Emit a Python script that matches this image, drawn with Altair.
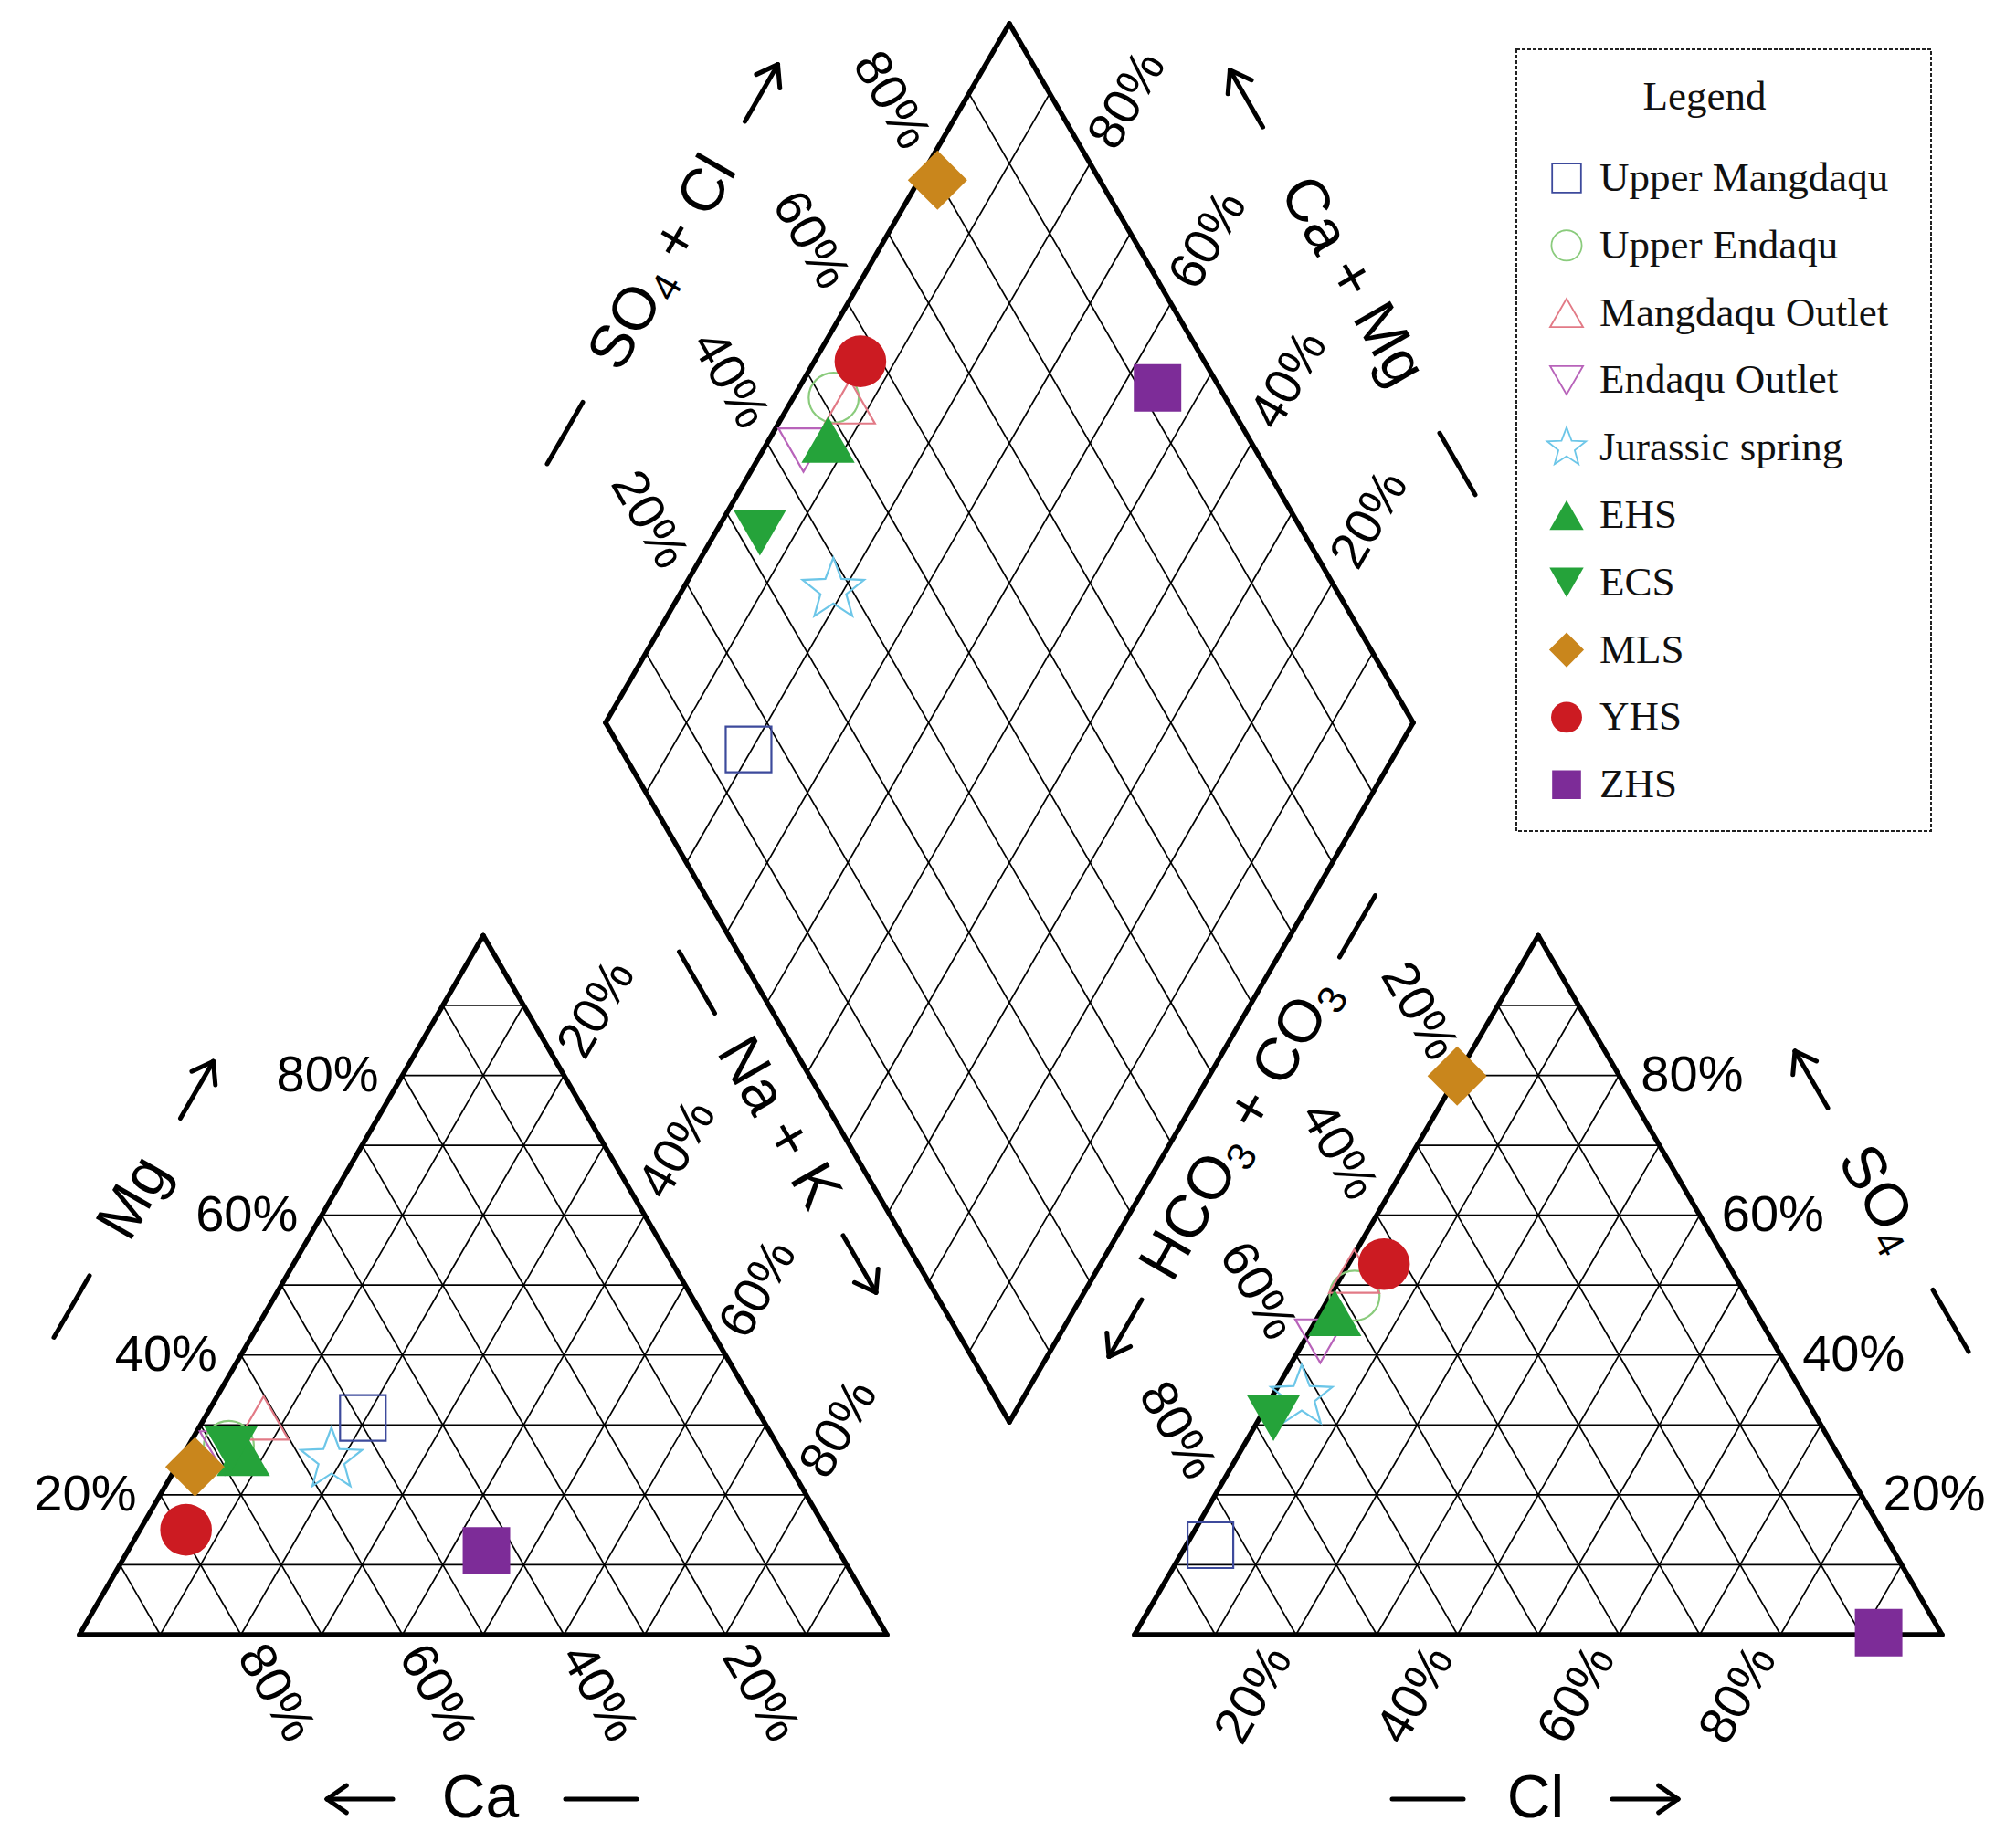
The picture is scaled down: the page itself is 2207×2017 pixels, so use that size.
import math
import altair as alt
import pandas as pd

# ---------------- data (percent) ----------------
names = ["Upper Mangdaqu", "Upper Endaqu", "Mangdaqu Outlet", "Endaqu Outlet",
         "Jurassic spring", "EHS", "ECS", "MLS", "YHS", "ZHS"]
cat_ca = [49.4, 68.0, 61.7, 69.0, 56.3, 66.7, 68.0, 73.7, 79.3, 43.6]
cat_mg = [31.0, 27.0, 31.0, 26.0, 25.0, 26.0, 26.5, 24.0, 15.0, 12.0]
cat_nak = [19.6, 5.0, 7.3, 5.0, 18.7, 7.3, 5.5, 2.3, 5.7, 44.4]
an_hco3 = [84.2, 48.5, 46.8, 56.0, 62.3, 52.2, 67.3, 20.1, 42.6, 7.7]
an_so4 = [12.8, 48.5, 52.0, 42.0, 34.0, 46.0, 31.0, 79.9, 53.0, 0.3]
an_cl = [3.0, 3.0, 1.2, 2.0, 3.7, 1.8, 1.7, 0.0, 4.4, 92.0]

tick_values = [20, 40, 60, 80]
tick_labels = ["20%", "40%", "60%", "80%"]

# ---------------- styles ----------------
star = []
for i in range(10):
    r = 1.0 if i % 2 == 0 else 0.42
    a = math.radians(-90 + 36 * i)
    star.append(f"{r*math.cos(a):.3f},{r*math.sin(a):.3f}")
STAR = "M" + " L".join(star) + " Z"

shapes = ["square", "circle", "triangle-up", "triangle-down", STAR,
          "triangle-up", "triangle-down", "diamond", "circle", "square"]
colors = ["#3d4a9c", "#8acb7c", "#e27a86", "#b863ba", "#6cc6e8",
          "#25a33a", "#25a33a", "#c9861c", "#cc1b22", "#7d2c98"]
filled = [False, False, False, False, False, True, True, True, True, True]
sizes = [2500, 3000, 3000, 3000, 5000, 3400, 3400, 4225, 3200, 2700]
legend_sizes = [1000, 1100, 1300, 1300, 2000, 1400, 1400, 1450, 1150, 1000]

SANS = "Liberation Sans, Arial, DejaVu Sans, sans-serif"
SERIF = "Liberation Serif, Times New Roman, DejaVu Serif, serif"

# ---------------- geometry ----------------
L = 884.0
H = L * math.sqrt(3) / 2
CAT = (87.0, 1790.0)     # bottom-left corner of cation triangle
AN = (1242.0, 1790.0)    # bottom-left corner of anion triangle
DB = (1105.0, 1557.0)    # bottom corner of diamond
W, HT = 2190, 2000


def tri_xy(o, top, right):
    return (o[0] + (right + top / 2) / 100 * L, o[1] - top / 100 * H)


def dia_xy(a, c):
    return (DB[0] + (a - c) / 100 * L / 2, DB[1] - (a + c) / 100 * H)


segs, outline = [], []


def seg(lst, p, q):
    lst.append({"x": p[0], "y": p[1], "x2": q[0], "y2": q[1]})


for o in (CAT, AN):
    for k in range(1, 10):
        f = k * 10
        seg(segs, tri_xy(o, f, 0), tri_xy(o, f, 100 - f))
        seg(segs, tri_xy(o, 0, f), tri_xy(o, 100 - f, f))
        seg(segs, tri_xy(o, 0, f), tri_xy(o, f, 0))
    seg(outline, tri_xy(o, 0, 0), tri_xy(o, 0, 100))
    seg(outline, tri_xy(o, 0, 100), tri_xy(o, 100, 0))
    seg(outline, tri_xy(o, 100, 0), tri_xy(o, 0, 0))
for k in range(1, 10):
    f = k * 10
    seg(segs, dia_xy(f, 0), dia_xy(f, 100))
    seg(segs, dia_xy(0, f), dia_xy(100, f))
seg(outline, dia_xy(0, 0), dia_xy(100, 0))
seg(outline, dia_xy(100, 0), dia_xy(100, 100))
seg(outline, dia_xy(100, 100), dia_xy(0, 100))
seg(outline, dia_xy(0, 100), dia_xy(0, 0))

# ---------------- sample points ----------------
rows = []
for i, n in enumerate(names):
    tc = cat_ca[i] + cat_mg[i] + cat_nak[i]
    ta = an_hco3[i] + an_so4[i] + an_cl[i]
    mg, nak = cat_mg[i] / tc * 100, cat_nak[i] / tc * 100
    so4, cl = an_so4[i] / ta * 100, an_cl[i] / ta * 100
    for (x, y) in (tri_xy(CAT, mg, nak), tri_xy(AN, so4, cl),
                   dia_xy(so4 + cl, 100 - nak)):
        rows.append({"name": n, "x": x, "y": y, "shape": shapes[i],
                     "color": colors[i], "size": sizes[i], "filled": filled[i],
                     "order": i})
pts = pd.DataFrame(rows)

# ---------------- tick labels ----------------
lab = []
for v, t in zip(tick_values, tick_labels):
    x, y = tri_xy(CAT, v, 0)
    lab.append({"x": x - 82, "y": y, "text": t, "angle": 0})
    x, y = tri_xy(CAT, 100 - v, v)
    lab.append({"x": x + 36, "y": y - 72, "text": t, "angle": 300})
    x, y = tri_xy(CAT, 0, 100 - v)
    lab.append({"x": x + 38, "y": y + 64, "text": t, "angle": 60})
    x, y = tri_xy(AN, 0, v)
    lab.append({"x": x - 46, "y": y + 66, "text": t, "angle": 300})
    x, y = tri_xy(AN, v, 100 - v)
    lab.append({"x": x + 80, "y": y, "text": t, "angle": 0})
    x, y = tri_xy(AN, 100 - v, 0)
    lab.append({"x": x - 42, "y": y - 70, "text": t, "angle": 60})
    x, y = dia_xy(v, 100)
    lab.append({"x": x - 41, "y": y - 69, "text": t, "angle": 60})
    x, y = dia_xy(100, v)
    lab.append({"x": x + 41, "y": y - 69, "text": t, "angle": 300})
labels = pd.DataFrame(lab)

# ---------------- axis titles (with subscripts), dashes and arrows ----------------
FS = 66
SUB = 0.66
ADV = {" ": 278, "+": 584, "S": 667, "O": 778, "C": 722, "l": 222, "H": 722,
       "a": 556, "M": 833, "g": 556, "N": 722, "K": 667, "3": 556, "4": 556}

titles_spec = [
    # pieces (text, is_subscript), centre, angle, left symbol & offset, right symbol & offset
    ([("Mg", False)], 147, 1312, 300, "dash", -137, "fwd", 137),
    ([("Na + K", False)], 852, 1230, 60, "dash", -178, "fwd", 178),
    ([("Ca", False)], 526, 1970, 0, "back", -132, "dash", 132),
    ([("Cl", False)], 1681, 1970, 0, "dash", -118, "fwd", 120),
    ([("SO", False), ("4", True)], 2058, 1312, 60, "back", -150, "dash", 155),
    ([("HCO", False), ("3", True), (" + CO", False), ("3", True)], 1358, 1236, 300,
     "back", -252, "dash", 256),
    ([("SO", False), ("4", True), (" + Cl", False)], 726, 288, 300, "dash", -215, "fwd", 215),
    ([("Ca + Mg", False)], 1480, 308, 60, "back", -231, "dash", 231),
]


def width(s, fs):
    return sum(ADV.get(ch, 600) for ch in s) / 1000 * fs


tt, strokes = [], []
for pieces, cx, cy, ang, s1, d1, s2, d2 in titles_spec:
    ux, uy = math.cos(math.radians(ang)), math.sin(math.radians(ang))
    dx, dy = -uy, ux
    total = sum(width(t, FS * SUB if sb else FS) for t, sb in pieces)
    pos = -total / 2
    for t, sb in pieces:
        fs = FS * SUB if sb else FS
        lead = width(t[:len(t) - len(t.lstrip())], fs)
        vis = t.strip()
        c = pos + lead + width(vis, fs) / 2
        off = 0.27 * FS if sb else 0
        tt.append({"x": cx + c * ux + off * dx, "y": cy + c * uy + off * dy,
                   "text": vis, "angle": ang, "fs": fs})
        pos += width(t, fs)
    for kind, d in ((s1, d1), (s2, d2)):
        px, py = cx + d * ux, cy + d * uy
        if kind == "dash":
            seg(strokes, (px - 39 * ux, py - 39 * uy), (px + 39 * ux, py + 39 * uy))
        else:
            sx, sy = (ux, uy) if kind == "fwd" else (-ux, -uy)
            tip = (px + 36 * sx, py + 36 * sy)
            seg(strokes, (px - 36 * sx, py - 36 * sy), tip)
            for rot in (35, -35):
                r = math.radians(rot)
                hx = sx * math.cos(r) - sy * math.sin(r)
                hy = sx * math.sin(r) + sy * math.cos(r)
                seg(strokes, tip, (tip[0] - 26 * hx, tip[1] - 26 * hy))
titles = pd.DataFrame(tt)

# ---------------- legend ----------------
leg_rows = []
for i, n in enumerate(names):
    leg_rows.append({"name": n, "x": 1715, "tx": 1751, "y": 195 + i * 73.8,
                     "shape": shapes[i], "color": colors[i],
                     "size": legend_sizes[i], "filled": filled[i]})
leg = pd.DataFrame(leg_rows)
box = pd.DataFrame([{"x": 1660, "x2": 2114, "y": 54, "y2": 910}])
leg_title = pd.DataFrame([{"x": 1866, "y": 106, "text": "Legend"}])

# ---------------- chart ----------------
xs = alt.Scale(domain=[8, 8 + W])
ys = alt.Scale(domain=[8, 8 + HT], reverse=True)
X = alt.X("x:Q", scale=xs, axis=None)
Y = alt.Y("y:Q", scale=ys, axis=None)

grid = alt.Chart(pd.DataFrame(segs)).mark_rule(color="black", strokeWidth=1.7).encode(
    x=X, y=Y, x2="x2:Q", y2="y2:Q")
frame = alt.Chart(pd.DataFrame(outline)).mark_rule(
    color="black", strokeWidth=5.5, strokeCap="round").encode(x=X, y=Y, x2="x2:Q", y2="y2:Q")
marks = alt.Chart(pd.DataFrame(strokes)).mark_rule(
    color="black", strokeWidth=5, strokeCap="round").encode(x=X, y=Y, x2="x2:Q", y2="y2:Q")


def point_layer(df, is_filled, sw):
    return alt.Chart(df[df["filled"] == is_filled]).mark_point(
        filled=is_filled, opacity=1, strokeWidth=sw).encode(
        x=X, y=Y,
        shape=alt.Shape("shape:N", scale=None),
        color=alt.Color("color:N", scale=None),
        size=alt.Size("size:Q", scale=None),
        order=alt.Order("order:Q"),
    )


open_pts = point_layer(pts, False, 2.2)
fill_pts = point_layer(pts, True, 0)

tick_text = alt.Chart(labels).mark_text(
    font=SANS, fontSize=56, align="center", baseline="middle", color="black").encode(
    x=X, y=Y, text="text:N", angle=alt.Angle("angle:Q", scale=None))
title_text = alt.Chart(titles).mark_text(
    font=SANS, align="center", baseline="middle", color="black").encode(
    x=X, y=Y, text="text:N", angle=alt.Angle("angle:Q", scale=None),
    size=alt.Size("fs:Q", scale=None))

leg_box = alt.Chart(box).mark_rect(
    fill="white", stroke="#222222", strokeWidth=2, strokeDash=[4, 2]).encode(
    x=X, y=Y, x2="x2:Q", y2="y2:Q")
leg_open = alt.Chart(leg[~leg["filled"]]).mark_point(filled=False, opacity=1, strokeWidth=1.8).encode(
    x=X, y=Y, shape=alt.Shape("shape:N", scale=None),
    color=alt.Color("color:N", scale=None), size=alt.Size("size:Q", scale=None))
leg_fill = alt.Chart(leg[leg["filled"]]).mark_point(filled=True, opacity=1, strokeWidth=0).encode(
    x=X, y=Y, shape=alt.Shape("shape:N", scale=None),
    color=alt.Color("color:N", scale=None), size=alt.Size("size:Q", scale=None))
leg_text = alt.Chart(leg).mark_text(
    font=SERIF, fontSize=45, align="left", baseline="middle", color="#111111").encode(
    x=alt.X("tx:Q", scale=xs, axis=None), y=Y, text="name:N")
leg_head = alt.Chart(leg_title).mark_text(
    font=SERIF, fontSize=45, align="center", baseline="middle", color="#111111").encode(
    x=X, y=Y, text="text:N")

chart = alt.layer(
    grid, frame, open_pts, fill_pts, tick_text, title_text, marks,
    leg_box, leg_open, leg_fill, leg_text, leg_head,
).properties(
    width=W, height=HT, padding=0, autosize=alt.AutoSizeParams(type="none"),
    background="white",
).configure_view(stroke=None)

chart.save("out.html", embed_options={"renderer": "svg", "actions": False})
